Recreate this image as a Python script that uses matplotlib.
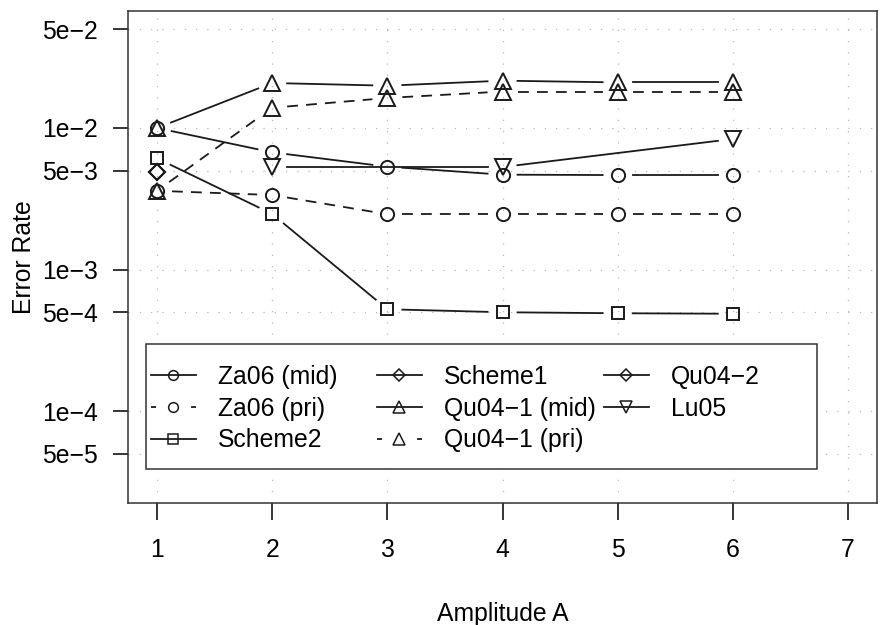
import numpy as np
import matplotlib
matplotlib.use('Agg')
import matplotlib.pyplot as plt
from matplotlib.lines import Line2D
from matplotlib.legend import Legend
from matplotlib.patches import Rectangle
from matplotlib.ticker import FixedLocator, NullLocator

matplotlib.rc('font', family=['Liberation Sans', 'DejaVu Sans'], size=17.8)

# values
amplitude = [1, 2, 3, 4, 5, 6]
za06_mid = [1.0e-2, 6.73e-3, 5.33e-3, 4.68e-3, 4.65e-3, 4.65e-3]
za06_pri = [3.6e-3, 3.36e-3, 2.46e-3, 2.46e-3, 2.46e-3, 2.46e-3]
scheme2 = [6.11e-3, 2.47e-3, 5.24e-4, 4.99e-4, 4.91e-4, 4.87e-4]
qu041_mid = [1.0e-2, 2.08e-2, 1.99e-2, 2.16e-2, 2.10e-2, 2.10e-2]
qu041_pri = [3.6e-3, 1.39e-2, 1.63e-2, 1.81e-2, 1.81e-2, 1.81e-2]
lu05_x = [2, 4, 6]
lu05 = [5.3e-3, 5.3e-3, 8.36e-3]
scheme1_x = [1]
scheme1 = [4.86e-3]
qu042_x = [1]
qu042 = [4.86e-3]

ytick_vals = [5e-5, 1e-4, 5e-4, 1e-3, 5e-3, 1e-2, 5e-2]
ytick_labels = ['5e\u22125', '1e\u22124', '5e\u22124', '1e\u22123', '5e\u22123', '1e\u22122', '5e\u22122']
xtick_vals = [1, 2, 3, 4, 5, 6, 7]

DASH = (0, (6, 4.5))
LEG_DASH = (0, (2.8, 19.4))  # "- o -" look of R's legend
LW = 1.3
GAP = 15  # px gap between line ends and markers (R type="b")


def draw_series(ax, xs, ys, marker, ls, ms):
    # line segments shortened in pixel space, then hollow markers on top
    trans = ax.transData
    inv = trans.inverted()
    pts = trans.transform(np.column_stack([xs, ys]))
    for p0, p1 in zip(pts[:-1], pts[1:]):
        d = p1 - p0
        n = np.hypot(*d)
        if n <= 2 * GAP:
            continue
        u = d / n
        seg = inv.transform(np.array([p0 + u * GAP, p1 - u * GAP]))
        ax.plot(seg[:, 0], seg[:, 1], color='#1a1a1a', lw=LW, linestyle=ls, zorder=3)
    ax.plot(xs, ys, linestyle='none', marker=marker, ms=ms, mfc='none',
            mec='#1a1a1a', mew=1.4, zorder=4)


fig = plt.figure(figsize=(8.82, 6.25), dpi=100)
ax = fig.add_axes([128 / 882, 1 - 503 / 625, 749 / 882, 492 / 625])
ax.set_yscale('log')
ax.set_xlim(0.748, 7.252)
ax.set_ylim(2.24e-5, 6.71e-2)

ax.yaxis.set_major_locator(FixedLocator(ytick_vals))
ax.yaxis.set_minor_locator(NullLocator())
ax.set_yticklabels(ytick_labels)
ax.set_xticks(xtick_vals)
ax.tick_params(axis='y', length=11, width=1.1, pad=10.8)
ax.tick_params(axis='x', length=12, width=1.1, pad=13)
for sp in ax.spines.values():
    sp.set_linewidth(1.1)
    sp.set_color('#333333')

ax.grid(True, color='#b8b8b8', linestyle=(0, (1, 8)), lw=0.9)
ax.set_axisbelow(True)

ax.set_xlabel('Amplitude A', labelpad=29)
ax.set_ylabel('Error Rate', labelpad=4)

draw_series(ax, amplitude, za06_mid, 'o', '-', 9.5)
draw_series(ax, amplitude, za06_pri, 'o', DASH, 9.5)
draw_series(ax, amplitude, scheme2, 's', '-', 8.3)
draw_series(ax, scheme1_x, scheme1, 'D', '-', 8)
draw_series(ax, amplitude, qu041_mid, '^', '-', 11)
draw_series(ax, amplitude, qu041_pri, '^', DASH, 11)
draw_series(ax, qu042_x, qu042, 'D', '-', 8)
draw_series(ax, lu05_x, lu05, 'v', '-', 11)

# legend box, then three columns placed like R's legend()
ax.add_patch(Rectangle((0.024, 0.0691), 0.896, 0.2541, transform=ax.transAxes,
                       facecolor='white', edgecolor='#333333', lw=1.1, zorder=5))


def handle(marker, ls, ms):
    return Line2D([], [], color='#1a1a1a', lw=LW, linestyle=ls, marker=marker,
                  ms=ms, mfc='none', mec='#1a1a1a', mew=1.1)


columns = [
    ([handle('o', '-', 7), handle('o', LEG_DASH, 7), handle('s', '-', 6.5)],
     ['Za06 (mid)', 'Za06 (pri)', 'Scheme2'], 0.0307),
    ([handle('D', '-', 6), handle('^', '-', 8), handle('^', LEG_DASH, 8)],
     ['Scheme1', 'Qu04\u22121 (mid)', 'Qu04\u22121 (pri)'], 0.3324),
    ([handle('D', '-', 6), handle('v', '-', 8)],
     ['Qu04\u22122', 'Lu05'], 0.6355),
]
for hs, labels, xpos in columns:
    leg = Legend(ax, hs, labels, loc='upper left', bbox_to_anchor=(xpos, 0.2805),
                 frameon=False, borderpad=0, borderaxespad=0,
                 handlelength=1.82, handletextpad=0.89, labelspacing=0.31)
    leg.set_zorder(6)
    ax.add_artist(leg)

fig.savefig('out.png', dpi=100)
